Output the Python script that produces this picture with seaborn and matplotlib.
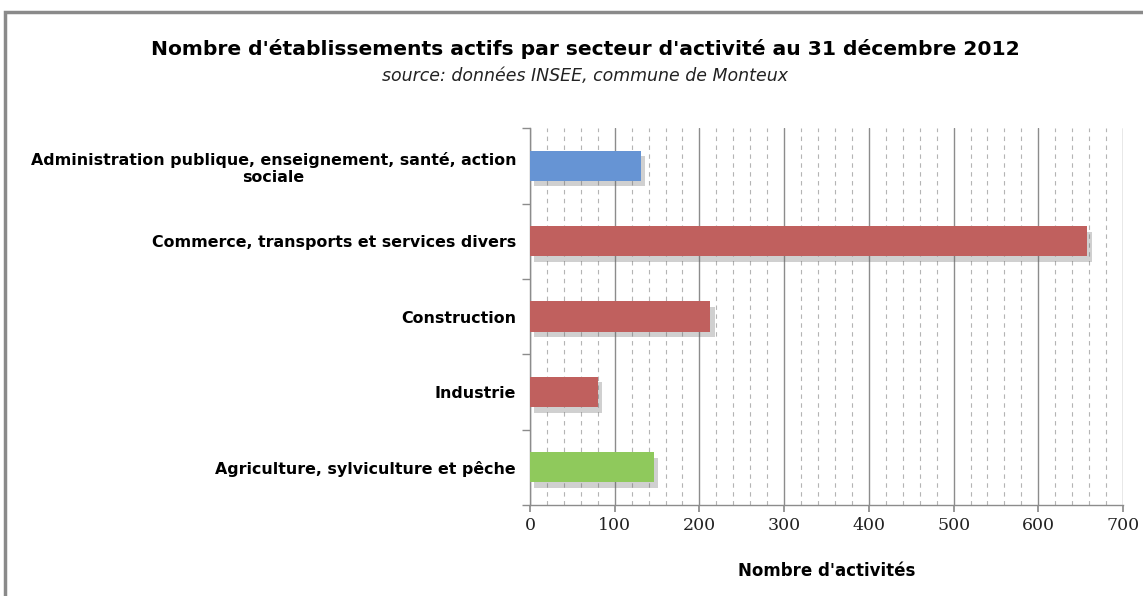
import matplotlib
matplotlib.use("Agg")
import matplotlib.pyplot as plt
import matplotlib.patheffects as pe
from matplotlib.patches import Rectangle
from matplotlib.ticker import MultipleLocator, FixedLocator
import pandas as pd
import seaborn as sns

# Établissements actifs par secteur, Monteux, 31/12/2012 (INSEE)
secteurs = [
    "Administration publique, enseignement, santé, action\nsociale",
    "Commerce, transports et services divers",
    "Construction",
    "Industrie",
    "Agriculture, sylviculture et pêche",
]
etablissements = [131, 658, 213, 80, 146]
couleurs = ["#6694d4", "#c0605e", "#c0605e", "#c0605e", "#8fc95c"]

sns.set_theme(style="white")
plt.rcParams["font.family"] = ["DejaVu Sans"]
plt.rcParams["text.color"] = "black"
plt.rcParams["axes.labelcolor"] = "black"
plt.rcParams["xtick.color"] = "black"
plt.rcParams["ytick.color"] = "black"

df = pd.DataFrame({"secteur": secteurs, "nb": etablissements})

fig = plt.figure(figsize=(11.43, 5.96), dpi=100)
fig.patch.set_facecolor("white")
fig.patches.append(Rectangle((0.004, -0.01), 1.2, 0.99, transform=fig.transFigure,
                             fill=False, edgecolor="#8a8a8a", linewidth=2.5))

ax = fig.add_axes([0.4637, 0.1527, 0.5188, 0.6323])
sns.barplot(data=df, y="secteur", x="nb", hue="secteur", palette=couleurs,
            legend=False, width=0.4, ax=ax, zorder=3, saturation=1)

for bar in ax.patches:
    bar.set_path_effects([
        pe.SimplePatchShadow(offset=(3, -4), shadow_rgbFace="#666666", alpha=0.3),
        pe.Normal(),
    ])
    bar.set_edgecolor("none")

ax.set_xlim(0, 700)
ax.set_ylim(4.5, -0.5)
ax.xaxis.set_major_locator(MultipleLocator(100))
ax.xaxis.set_minor_locator(MultipleLocator(20))
ax.grid(axis="x", which="major", color="#8c8c8c", linewidth=1.0, linestyle="-", zorder=0)
ax.grid(axis="x", which="minor", color="#b4b4b4", linewidth=0.8, linestyle=(0, (4, 4)), zorder=0)
ax.set_axisbelow(True)

for side in ("top", "right"):
    ax.spines[side].set_visible(False)
for side in ("left", "bottom"):
    ax.spines[side].set_color("#8c8c8c")
    ax.spines[side].set_linewidth(1.0)

ax.yaxis.set_minor_locator(FixedLocator([-0.5, 0.5, 1.5, 2.5, 3.5, 4.5]))
ax.tick_params(axis="y", which="major", length=0, pad=10, labelsize=11.4)
ax.tick_params(axis="y", which="minor", left=True, length=6, color="#8c8c8c", width=1)
ax.tick_params(axis="x", which="major", bottom=True, length=5, color="#8c8c8c",
               labelsize=12.5, pad=4)
ax.tick_params(axis="x", which="minor", bottom=False)
for lab in ax.get_yticklabels():
    lab.set_fontweight("bold")
    lab.set_multialignment("center")
for lab in ax.get_xticklabels():
    lab.set_fontfamily("DejaVu Serif")
    lab.set_color("#222222")

ax.set_ylabel("")
ax.set_xlabel("Nombre d'activités", fontsize=12, fontweight="bold", labelpad=20)

fig.text(0.512, 0.918, "Nombre d'établissements actifs par secteur d'activité au 31 décembre 2012",
         ha="center", va="center", fontsize=14.6, fontweight="bold")
fig.text(0.512, 0.873, "source: données INSEE, commune de Monteux",
         ha="center", va="center", fontsize=12.5, style="italic", color="#222222")

fig.savefig("out.png", dpi=100, facecolor="white")
